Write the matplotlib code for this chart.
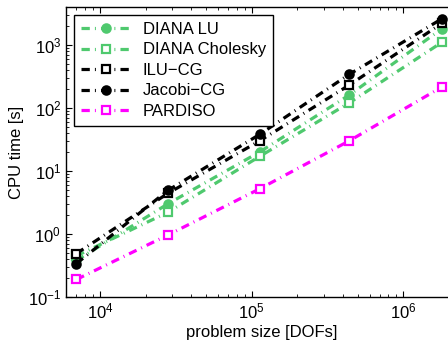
import matplotlib
matplotlib.use("Agg")
import matplotlib.pyplot as plt

plt.rcParams['font.family'] = ['Liberation Sans', 'DejaVu Sans']
plt.rcParams['mathtext.fontset'] = 'custom'
plt.rcParams['mathtext.rm'] = 'Liberation Sans'
plt.rcParams['mathtext.it'] = 'Liberation Sans'

# problem sizes (DOFs) and CPU times [s]
dofs = [7.0e3, 2.8e4, 1.13e5, 4.4e5, 1.8e6]
diana_lu = [0.38, 3.0, 20, 160, 1800]
diana_chol = [0.45, 2.2, 17, 120, 1100]
ilu_cg = [0.49, 4.4, 30, 230, 2200]
jacobi_cg = [0.34, 4.9, 38, 340, 2600]
pardiso = [0.19, 0.96, 5.2, 30, 215]

green = '#4fc96e'
magenta = '#ff00ff'

fig = plt.figure(figsize=(4.48, 3.43), dpi=100)
ax = fig.add_axes([66/448, 46/343, 392/448, 290/343])

# matlab-like dash-dot: long dash, gap, tiny dot, gap
kw = dict(linestyle=(0, (2.6, 1.6, 0.3, 1.6)), linewidth=2.3,
          markersize=6, markeredgewidth=1.6)
ax.plot(dofs, diana_lu, marker='o', color=green, label='DIANA LU', **kw)
ax.plot(dofs, diana_chol, marker='s', color=green, markerfacecolor='white',
        label='DIANA Cholesky', **kw)
ax.plot(dofs, ilu_cg, marker='s', color='black', markerfacecolor='white',
        label='ILU\u2212CG', **kw)
ax.plot(dofs, jacobi_cg, marker='o', color='black', label='Jacobi\u2212CG', **kw)
ax.plot(dofs, pardiso, marker='s', color=magenta, markerfacecolor='white',
        label='PARDISO', **kw)

ax.set_xscale('log')
ax.set_yscale('log')
ax.set_xlim(5970, 2.3e6)
ax.set_ylim(0.1, 4000)

ax.tick_params(which='both', direction='in', top=True, right=True, labelsize=12)
ax.tick_params(which='major', length=4)
ax.tick_params(which='minor', length=2)
for s in ax.spines.values():
    s.set_linewidth(1.0)

ax.set_xlabel('problem size [DOFs]', fontsize=12, labelpad=2)
ax.set_ylabel('CPU time [s]', fontsize=12, labelpad=3)

leg = ax.legend(loc='upper left', fontsize=12, fancybox=False, framealpha=1,
                edgecolor='black', handlelength=3.0, borderaxespad=0.5,
                labelspacing=0.33, handletextpad=0.7, borderpad=0.4)
leg.get_frame().set_linewidth(1.0)

fig.savefig('out.png', dpi=100)
